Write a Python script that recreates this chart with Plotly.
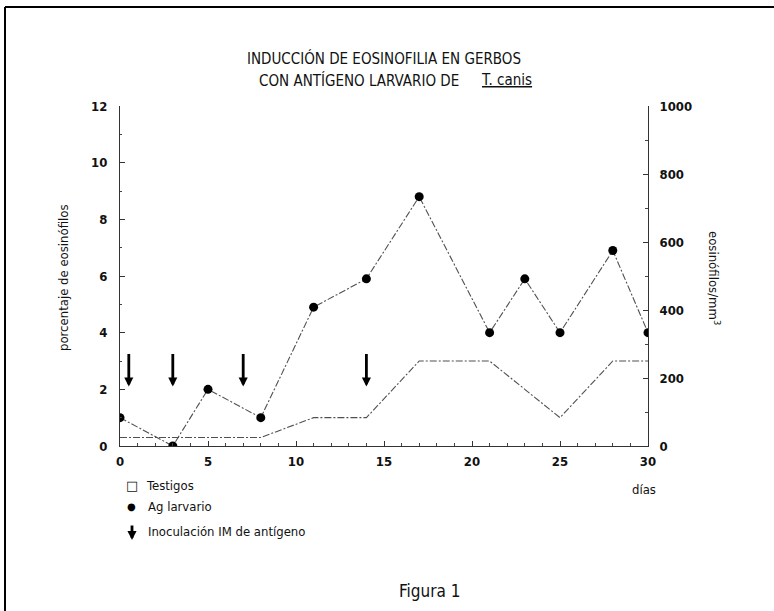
import plotly.graph_objects as go

# Days of sampling and eosinophil percentages
dias = [0, 3, 5, 8, 11, 14, 17, 21, 23, 25, 28, 30]
ag_larvario = [1.0, 0.0, 2.0, 1.0, 4.9, 5.9, 8.8, 4.0, 5.9, 4.0, 6.9, 4.0]
testigos = [0.3, 0.3, 0.3, 0.3, 1.0, 1.0, 3.0, 3.0, 2.0, 1.0, 3.0, 3.0]

# Days of intramuscular antigen inoculation (arrow from top to tip)
inoculacion_dias = [0.5, 3, 7, 14]
flecha_inicio = 3.3
flecha_fin = 2.1

x_ticks = [0, 5, 10, 15, 20, 25, 30]
y_ticks = [0, 2, 4, 6, 8, 10, 12]
y2_ticks = [0, 200, 400, 600, 800, 1000]

W, H = 774, 611
L, R, T, B = 120, 126, 106, 165
PW, PH = W - L - R, H - T - B

FONT = "DejaVu Sans Condensed, Liberation Sans, Arial, sans-serif"
INK = "#111111"
LINE = "#505050"


def px(xp):
    return (xp - L) / PW


def py(yp):
    return (H - B - yp) / PH


fig = go.Figure()

fig.add_trace(go.Scatter(
    x=dias, y=testigos, mode="lines", name="Testigos",
    line=dict(color=LINE, width=1.1, dash="7px,2px,2px,2px"),
    showlegend=False, hoverinfo="skip"))

fig.add_trace(go.Scatter(
    x=dias, y=ag_larvario, mode="lines+markers", name="Ag larvario",
    line=dict(color=LINE, width=1.1, dash="7px,2px,2px,2px"),
    marker=dict(color="#000000", size=9),
    showlegend=False, hoverinfo="skip"))

# empty trace bound to the secondary (eosinophils/mm3) axis so it gets drawn
fig.add_trace(go.Scatter(x=[], y=[], yaxis="y2", showlegend=False, hoverinfo="skip"))

annotations = []
for d in inoculacion_dias:
    annotations.append(dict(
        x=d, y=flecha_fin, ax=d, ay=flecha_inicio,
        xref="x", yref="y", axref="x", ayref="y",
        text="", showarrow=True, arrowhead=2, arrowsize=0.65,
        arrowwidth=2.8, arrowcolor="#000000", standoff=0))

# Title lines
annotations.append(dict(
    text="INDUCCIÓN DE EOSINOFILIA EN GERBOS", x=px(384), y=py(58),
    xref="paper", yref="paper", showarrow=False, xanchor="center", yanchor="middle",
    font=dict(family=FONT, size=15, color=INK)))
annotations.append(dict(
    text="CON ANTÍGENO LARVARIO DE", x=px(257), y=py(80),
    xref="paper", yref="paper", showarrow=False, xanchor="left", yanchor="middle",
    font=dict(family=FONT, size=15, color=INK)))
annotations.append(dict(
    text="<u>T. canis</u>", x=px(479), y=py(80),
    xref="paper", yref="paper", showarrow=False, xanchor="left", yanchor="middle",
    font=dict(family=FONT, size=15, color=INK)))

# Axis titles
annotations.append(dict(
    text="porcentaje de eosinófilos", x=px(63), y=py(278),
    xref="paper", yref="paper", showarrow=False, textangle=-90,
    xanchor="center", yanchor="middle",
    font=dict(family=FONT, size=13, color=INK)))
annotations.append(dict(
    text="eosinófilos/mm<sup>3</sup>", x=px(714), y=py(278),
    xref="paper", yref="paper", showarrow=False, textangle=90,
    xanchor="center", yanchor="middle",
    font=dict(family=FONT, size=13, color=INK)))
annotations.append(dict(
    text="días", x=px(644), y=py(489),
    xref="paper", yref="paper", showarrow=False,
    xanchor="center", yanchor="middle",
    font=dict(family=FONT, size=13, color=INK)))

# Key
annotations.append(dict(
    text="□", x=px(132), y=py(485), xref="paper", yref="paper", showarrow=False,
    xanchor="center", yanchor="middle", font=dict(family="DejaVu Sans", size=13, color=INK)))
annotations.append(dict(
    text="Testigos", x=px(144), y=py(485), xref="paper", yref="paper", showarrow=False,
    xanchor="left", yanchor="middle", font=dict(family=FONT, size=13, color=INK)))
annotations.append(dict(
    text="●", x=px(131), y=py(506), xref="paper", yref="paper", showarrow=False,
    xanchor="center", yanchor="middle", font=dict(family="DejaVu Sans", size=10, color="#000")))
annotations.append(dict(
    text="Ag larvario", x=px(146), y=py(506), xref="paper", yref="paper", showarrow=False,
    xanchor="left", yanchor="middle", font=dict(family=FONT, size=13, color=INK)))
annotations.append(dict(
    x=px(132), y=py(540), ax=0, ay=-16,
    xref="paper", yref="paper", axref="pixel", ayref="pixel",
    text="", showarrow=True, arrowhead=2, arrowsize=0.65,
    arrowwidth=2.8, arrowcolor="#000000", standoff=0))
annotations.append(dict(
    text="Inoculación IM de antígeno", x=px(146), y=py(531), xref="paper", yref="paper",
    showarrow=False, xanchor="left", yanchor="middle",
    font=dict(family=FONT, size=13, color=INK)))

annotations.append(dict(
    text="Figura 1", x=px(429), y=py(591), xref="paper", yref="paper", showarrow=False,
    xanchor="center", yanchor="middle", font=dict(family=FONT, size=17, color=INK)))

# Page frame (left and top edges)
shapes = [
    dict(type="line", xref="paper", yref="paper",
         x0=px(5), y0=py(7), x1=px(5), y1=py(611),
         line=dict(color="#000", width=2)),
    dict(type="line", xref="paper", yref="paper",
         x0=px(5), y0=py(7), x1=px(774), y1=py(7),
         line=dict(color="#000", width=2)),
]

tickfont = dict(family=FONT, size=13, color=INK, weight="bold")

fig.update_layout(
    width=W, height=H,
    margin=dict(l=L, r=R, t=T, b=B, autoexpand=False),
    paper_bgcolor="white", plot_bgcolor="white",
    showlegend=False,
    annotations=annotations, shapes=shapes,
    xaxis=dict(
        range=[0, 30], tickvals=x_ticks, ticktext=[str(v) for v in x_ticks],
        showgrid=False, zeroline=False, showline=True, linecolor="#333", linewidth=1,
        ticks="inside", ticklen=5, tickcolor="#333", tickwidth=1,
        minor=dict(dtick=1, ticks="inside", ticklen=3, tickcolor="#444", tickwidth=1),
        tickfont=tickfont, ticklabelstandoff=3, fixedrange=True),
    yaxis=dict(
        range=[0, 12], tickvals=y_ticks, ticktext=[str(v) for v in y_ticks],
        showgrid=False, zeroline=False, showline=True, linecolor="#333", linewidth=1,
        ticks="inside", ticklen=5, tickcolor="#333", tickwidth=1,
        minor=dict(dtick=1, ticks="inside", ticklen=2, tickcolor="#444", tickwidth=1),
        tickfont=tickfont, ticklabelstandoff=9, fixedrange=True),
    yaxis2=dict(
        range=[0, 1000], tickvals=y2_ticks, ticktext=[str(v) for v in y2_ticks],
        overlaying="y", side="right", anchor="x",
        showgrid=False, zeroline=False, showline=True, linecolor="#333", linewidth=1,
        ticks="inside", ticklen=5, tickcolor="#333", tickwidth=1,
        minor=dict(dtick=100, ticks="inside", ticklen=3, tickcolor="#444", tickwidth=1),
        tickfont=tickfont, ticklabelstandoff=8, fixedrange=True),
)

fig.write_html("out.html")
